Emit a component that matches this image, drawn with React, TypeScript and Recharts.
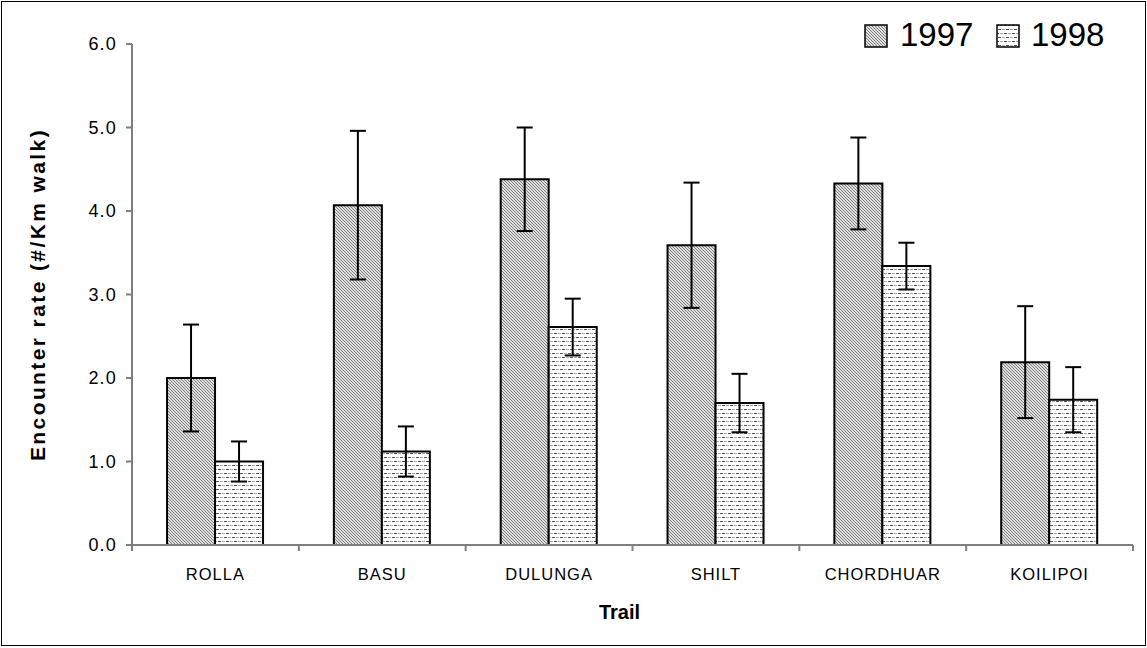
import { BarChart, Bar, XAxis, YAxis, ErrorBar } from "recharts";

const trails = ["ROLLA", "BASU", "DULUNGA", "SHILT", "CHORDHUAR", "KOILIPOI"];
const rate1997 = [2.0, 4.07, 4.38, 3.59, 4.33, 2.19];
const rate1998 = [1.0, 1.12, 2.61, 1.7, 3.34, 1.74];
const err1997 = [0.64, 0.89, 0.62, 0.75, 0.55, 0.67];
const err1998 = [0.24, 0.3, 0.34, 0.35, 0.28, 0.39];
const yTicks = [0, 1, 2, 3, 4, 5, 6];

const data = trails.map((trail, i) => ({
  trail,
  y1997: rate1997[i],
  y1998: rate1998[i],
  e1997: err1997[i],
  e1998: err1998[i],
}));

const W = 1147;
const H = 648;
const MARGIN = { top: 44, right: 14, bottom: 0, left: 0 };
const Y_WIDTH = 132;
const X_HEIGHT = 103;
const BAND = (W - MARGIN.left - Y_WIDTH - MARGIN.right) / trails.length;
const AXIS = "#7f7f7f";
const FONT = "'Liberation Sans', Arial, sans-serif";

// category labels centred in each band, with tick marks on the band edges
function TrailTick({ x, y, payload, index }: any) {
  const last = index === trails.length - 1;
  return (
    <g>
      <line x1={x - BAND / 2} x2={x - BAND / 2} y1={y} y2={y + 6} stroke={AXIS} strokeWidth={2} />
      {last && <line x1={x + BAND / 2} x2={x + BAND / 2} y1={y} y2={y + 6} stroke={AXIS} strokeWidth={2} />}
      <text x={x} y={y + 35} textAnchor="middle" fontSize={16.5} letterSpacing={1} fill="#000" fontFamily={FONT}>
        {payload.value}
      </text>
    </g>
  );
}

function Swatch({ fill, left }: { fill: string; left: number }) {
  return (
    <svg width={24} height={24} style={{ position: "absolute", left, top: 24 }}>
      <rect x={1} y={1} width={22} height={22} fill={fill} stroke="#000" strokeWidth={1.5} />
    </svg>
  );
}

const legendText = { position: "absolute" as const, top: 16, fontSize: 33, lineHeight: "38px" };

export default function App() {
  return (
    <div style={{ position: "absolute", left: 0, top: 0, width: W, height: H, background: "#fff", fontFamily: FONT }}>
      <svg width={0} height={0} style={{ position: "absolute" }}>
        <defs>
          <pattern id="hatch97" width={3} height={3} patternUnits="userSpaceOnUse">
            <rect width={3} height={3} fill="#dcdcdc" />
            <path d="M-1,-1 L4,4 M-1,2 L1,4 M2,-1 L4,1" stroke="#7a7a7a" strokeWidth={0.9} />
          </pattern>
          <pattern id="dash98" width={8} height={8} patternUnits="userSpaceOnUse">
            <rect width={8} height={8} fill="#fff" />
            <path d="M0,1.5 H3" stroke="#555" strokeWidth={1} />
            <path d="M4,1.5 H7" stroke="#aaa" strokeWidth={1} />
            <path d="M2,5.5 H5" stroke="#555" strokeWidth={1} />
            <path d="M6,5.5 H8 M0,5.5 H1" stroke="#aaa" strokeWidth={1} />
          </pattern>
        </defs>
      </svg>

      <BarChart width={W} height={H} data={data} margin={MARGIN} barCategoryGap="21%" barGap={0}>
        <XAxis
          dataKey="trail"
          height={X_HEIGHT}
          stroke={AXIS}
          strokeWidth={2}
          tickLine={false}
          tickSize={0}
          tickMargin={0}
          tick={<TrailTick />}
          interval={0}
          label={{
            value: "Trail",
            position: "insideBottom",
            offset: 29,
            dx: -13,
            fontSize: 20,
            fontWeight: "bold",
            fill: "#000",
            fontFamily: FONT,
          }}
        />
        <YAxis
          width={Y_WIDTH}
          domain={[0, 6]}
          ticks={yTicks}
          interval={0}
          stroke={AXIS}
          strokeWidth={2}
          tickSize={6}
          tickMargin={9}
          tickFormatter={(v: number) => v.toFixed(1)}
          tick={{ fontSize: 18, fill: "#000", fontFamily: FONT, letterSpacing: 1.2 }}
          label={{
            value: "Encounter rate (#/Km walk)",
            angle: -90,
            position: "insideLeft",
            offset: 38,
            textAnchor: "middle",
            fontSize: 21,
            letterSpacing: 2.4,
            fontWeight: "bold",
            fill: "#000",
            fontFamily: FONT,
          }}
        />
        <Bar dataKey="y1997" fill="url(#hatch97)" stroke="#000" strokeWidth={2} isAnimationActive={false}>
          <ErrorBar dataKey="e1997" width={8} stroke="#000" strokeWidth={2} />
        </Bar>
        <Bar dataKey="y1998" fill="url(#dash98)" stroke="#000" strokeWidth={2} isAnimationActive={false}>
          <ErrorBar dataKey="e1998" width={8} stroke="#000" strokeWidth={2} />
        </Bar>
      </BarChart>

      <Swatch fill="url(#hatch97)" left={864} />
      <span style={{ ...legendText, left: 900 }}>1997</span>
      <Swatch fill="url(#dash98)" left={996} />
      <span style={{ ...legendText, left: 1031 }}>1998</span>

      <div
        style={{
          position: "absolute",
          left: 1,
          top: 1,
          width: 1145,
          height: 645,
          border: "1px solid #000",
          boxSizing: "border-box",
          pointerEvents: "none",
        }}
      />
    </div>
  );
}
